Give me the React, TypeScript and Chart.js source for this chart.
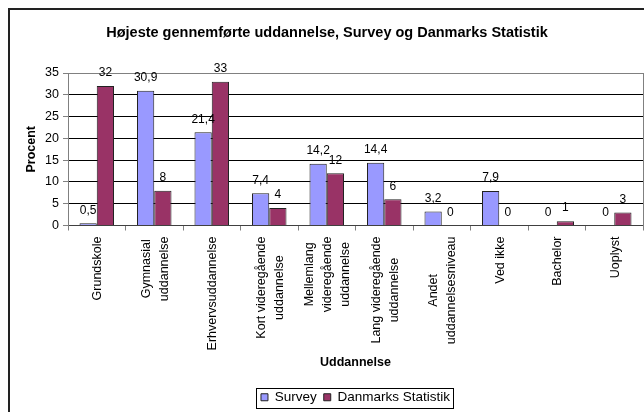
import React, { useEffect, useRef } from "react";
import { Chart, registerables } from "chart.js";

Chart.register(...registerables);

const FONT = '"Liberation Sans", Arial, sans-serif';

const chartTitle = "Højeste gennemførte uddannelse, Survey og Danmarks Statistik";
const yAxisTitle = "Procent";
const xAxisTitle = "Uddannelse";
const seriesNames = ["Survey", "Danmarks Statistik"];
const seriesColors = ["#9999FF", "#993366"];

const categories: string[][] = [
  ["Grundskole"],
  ["Gymnasial", "uddannelse"],
  ["Erhvervsuddannelse"],
  ["Kort videregående", "uddannelse"],
  ["Mellemlang", "videregående", "uddannelse"],
  ["Lang videregående", "uddannelse"],
  ["Andet", "uddannelsesniveau"],
  ["Ved ikke"],
  ["Bachelor"],
  ["Uoplyst"],
];

const surveyValues = [0.5, 30.9, 21.4, 7.4, 14.2, 14.4, 3.2, 7.9, 0, 0];
const dstValues = [32, 8, 33, 4, 12, 6, 0, 0, 1, 3];

const yMin = 0;
const yMax = 35;
const yStep = 5;

const fmt = (v: number) => String(v).replace(".", ",");

const xLabelsPlugin = {
  id: "xLabelsCentered",
  afterDraw(chart: any) {
    const xs = chart.scales.x;
    const ctx = chart.ctx;
    ctx.save();
    ctx.font = `12.5px ${FONT}`;
    ctx.fillStyle = "#000";
    ctx.textAlign = "center";
    ctx.textBaseline = "middle";
    const lh = 18;
    categories.forEach((lines, i) => {
      const cx = xs.getPixelForValue(i) + 1;
      const maxW = Math.max(...lines.map((l) => ctx.measureText(l).width));
      const cy = xs.top + 11 + maxW / 2;
      lines.forEach((line, j) => {
        const x = cx + (j - (lines.length - 1) / 2) * lh;
        ctx.save();
        ctx.translate(x, cy);
        ctx.rotate(-Math.PI / 2);
        ctx.fillText(line, 0, 0);
        ctx.restore();
      });
    });
    ctx.restore();
  },
};

const valueLabelsPlugin = {
  id: "valueLabels",
  afterDatasetsDraw(chart: any) {
    const ctx = chart.ctx;
    ctx.save();
    ctx.font = `12px ${FONT}`;
    ctx.fillStyle = "#000";
    ctx.textAlign = "center";
    ctx.textBaseline = "middle";
    chart.data.datasets.forEach((ds: any, di: number) => {
      const meta = chart.getDatasetMeta(di);
      meta.data.forEach((el: any, i: number) => {
        ctx.fillText(fmt(ds.data[i]), el.x, el.y - 13);
      });
    });
    ctx.restore();
  },
};

const legendBoxPlugin = {
  id: "legendBox",
  afterDraw(chart: any) {
    const lg = chart.legend;
    if (!lg || !lg.legendHitBoxes || !lg.legendHitBoxes.length) return;
    const hb = lg.legendHitBoxes;
    const first = hb[0];
    const last = hb[hb.length - 1];
    const left = Math.round(first.left - 5) + 0.5;
    const right = Math.round(last.left + last.width + 3) + 0.5;
    const top = Math.round(first.top - 3) + 0.5;
    const bottom = Math.round(first.top + first.height + 4) + 0.5;
    const ctx = chart.ctx;
    ctx.save();
    ctx.strokeStyle = "#000";
    ctx.lineWidth = 1;
    ctx.strokeRect(left, top, right - left, bottom - top);
    ctx.restore();
  },
};

export default function App() {
  const ref = useRef<HTMLCanvasElement | null>(null);

  useEffect(() => {
    if (!ref.current) return;
    const chart = new Chart(ref.current, {
      type: "bar",
      data: {
        labels: categories,
        datasets: [
          {
            label: seriesNames[0],
            data: surveyValues,
            backgroundColor: seriesColors[0],
            borderColor: "#222",
            borderWidth: 1,
            categoryPercentage: 0.6,
            barPercentage: 1.0,
          },
          {
            label: seriesNames[1],
            data: dstValues,
            backgroundColor: seriesColors[1],
            borderColor: "#222",
            borderWidth: 1,
            categoryPercentage: 0.6,
            barPercentage: 1.0,
          },
        ],
      },
      options: {
        responsive: false,
        animation: false,
        layout: { padding: { top: 14, left: 0, right: 6, bottom: 16 } },
        plugins: {
          title: {
            display: true,
            text: chartTitle,
            color: "#000",
            font: { family: FONT, size: 14.5, weight: "bold" },
            padding: { top: 0, bottom: 31.6 },
          },
          legend: {
            position: "bottom",
            fullSize: false,
            labels: {
              boxWidth: 7,
              boxHeight: 7,
              padding: 7,
              color: "#000",
              font: { family: FONT, size: 13.5 },
            },
          },
          tooltip: { enabled: false },
        },
        scales: {
          x: {
            type: "category",
            offset: true,
            grid: {
              offset: true,
              drawOnChartArea: false,
              drawTicks: true,
              tickLength: 5,
              color: "#808080",
            },
            border: { color: "#404040" },
            ticks: { display: false },
            title: {
              display: true,
              text: xAxisTitle,
              color: "#000",
              font: { family: FONT, size: 12.5, weight: "bold" },
              padding: { top: 0, bottom: 13 },
            },
            afterFit: (s: any) => {
              s.height = 158;
            },
          },
          y: {
            min: yMin,
            max: yMax,
            ticks: {
              stepSize: yStep,
              color: "#000",
              padding: 4,
              font: { family: FONT, size: 12.5 },
            },
            grid: {
              color: (c: any) =>
                c.tick && c.tick.value === yMax ? "#808080" : c.tick && c.tick.value === 0 ? "#404040" : "#000",
              tickColor: "#808080",
              tickLength: 5,
            },
            border: { color: "#808080" },
            title: {
              display: true,
              text: yAxisTitle,
              color: "#000",
              font: { family: FONT, size: 12.5, weight: "bold" },
              padding: { top: 14.5, bottom: 0 },
            },
            afterFit: (s: any) => {
              s.width = 58;
            },
          },
          y2: {
            position: "right",
            display: true,
            grid: { display: true, drawOnChartArea: false, drawTicks: false },
            ticks: { display: false },
            border: { display: true, color: "#808080" },
            afterFit: (s: any) => {
              s.width = 1;
            },
          },
        },
      },
      plugins: [valueLabelsPlugin, xLabelsPlugin, legendBoxPlugin],
    } as any);
    return () => chart.destroy();
  }, []);

  return (
    <div
      style={{
        position: "fixed",
        left: 8,
        top: 8,
        width: 640,
        height: 420,
        borderLeft: "2px solid #222",
        borderTop: "2px solid #222",
        overflow: "hidden",
        background: "#fff",
      }}
    >
      <canvas ref={ref} width={640} height={420} style={{ display: "block" }} />
    </div>
  );
}
